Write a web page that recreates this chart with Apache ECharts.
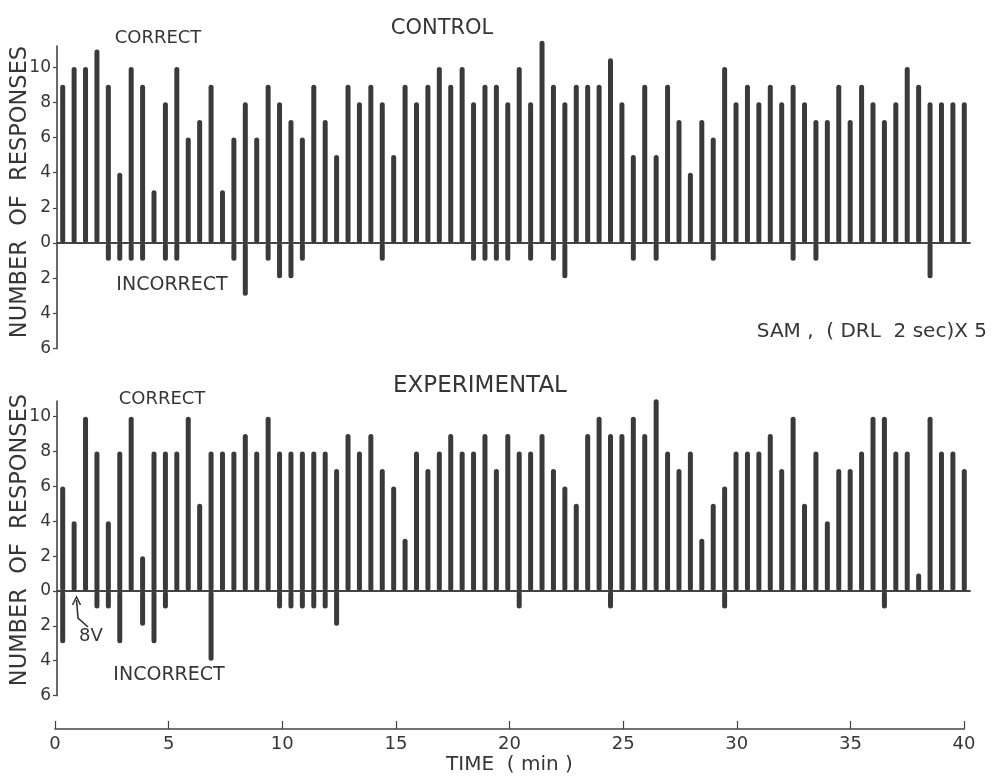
<!DOCTYPE html>
<html>
<head>
<meta charset="utf-8">
<script src="https://cdn.jsdelivr.net/npm/echarts@6/dist/echarts.min.js"></script>
<style>
html,body{margin:0;padding:0;background:#ffffff;}
#chart{width:992px;height:776px;}
</style>
</head>
<body>
<div id="chart"></div>
<script>
// 30-second bins over a 40-minute session (bin end, minutes)
const bins = Array.from({length: 80}, (_, i) => ((i + 1) * 0.5).toFixed(1));

// CONTROL panel: correct responses per bin
const controlCorrect = [
  9, 10, 10, 11, 9, 4, 10, 9, 3, 8,
  10, 6, 7, 9, 3, 6, 8, 6, 9, 8,
  7, 6, 9, 7, 5, 9, 8, 9, 8, 5,
  9, 8, 9, 10, 9, 10, 8, 9, 9, 8,
  10, 8, 11.5, 9, 8, 9, 9, 9, 10.5, 8,
  5, 9, 5, 9, 7, 4, 7, 6, 10, 8,
  9, 8, 9, 8, 9, 8, 7, 7, 9, 7,
  9, 8, 7, 8, 10, 9, 8, 8, 8, 8
];
// CONTROL panel: incorrect responses per bin
const controlIncorrect = [
  0, 0, 0, 0, 1, 1, 1, 1, 0, 1,
  1, 0, 0, 0, 0, 1, 3, 0, 1, 2,
  2, 1, 0, 0, 0, 0, 0, 0, 1, 0,
  0, 0, 0, 0, 0, 0, 1, 1, 1, 1,
  0, 1, 0, 1, 2, 0, 0, 0, 0, 0,
  1, 0, 1, 0, 0, 0, 0, 1, 0, 0,
  0, 0, 0, 0, 1, 0, 1, 0, 0, 0,
  0, 0, 0, 0, 0, 0, 2, 0, 0, 0
];
// EXPERIMENTAL panel: correct responses per bin
const expCorrect = [
  6, 4, 10, 8, 4, 8, 10, 2, 8, 8,
  8, 10, 5, 8, 8, 8, 9, 8, 10, 8,
  8, 8, 8, 8, 7, 9, 8, 9, 7, 6,
  3, 8, 7, 8, 9, 8, 8, 9, 7, 9,
  8, 8, 9, 7, 6, 5, 9, 10, 9, 9,
  10, 9, 11, 8, 7, 8, 3, 5, 6, 8,
  8, 8, 9, 7, 10, 5, 8, 4, 7, 7,
  8, 10, 10, 8, 8, 1, 10, 8, 8, 7
];
// EXPERIMENTAL panel: incorrect responses per bin
const expIncorrect = [
  3, 0, 0, 1, 1, 3, 0, 2, 3, 1,
  0, 0, 0, 4, 0, 0, 0, 0, 0, 1,
  1, 1, 1, 1, 2, 0, 0, 0, 0, 0,
  0, 0, 0, 0, 0, 0, 0, 0, 0, 0,
  1, 0, 0, 0, 0, 0, 0, 0, 1, 0,
  0, 0, 0, 0, 0, 0, 0, 0, 1, 0,
  0, 0, 0, 0, 0, 0, 0, 0, 0, 0,
  0, 0, 1, 0, 0, 0, 0, 0, 0, 0
];
// Tick values
const yTicks = [-6, -4, -2, 0, 2, 4, 6, 8, 10];
const timeTicks = [0, 5, 10, 15, 20, 25, 30, 35, 40];

const INK = '#363636';
const BAR = '#3a3a3a';
const FONT = '"DejaVu Sans", "Liberation Sans", sans-serif';

function panelX(gi) {
  return {
    type: 'category', gridIndex: gi, data: bins, boundaryGap: true,
    axisLine: {show: true, onZero: true, lineStyle: {color: '#444', width: 1.8}},
    axisTick: {show: false}, axisLabel: {show: false}, splitLine: {show: false}
  };
}
function panelY(gi, max) {
  return {
    type: 'value', gridIndex: gi, min: -6, max: max, interval: 2,
    axisLine: {show: true, onZero: false, lineStyle: {color: '#444', width: 1.6}},
    axisTick: {show: true, inside: false, length: 4, customValues: yTicks, lineStyle: {color: '#444', width: 1.2}},
    axisLabel: {
      show: true, customValues: yTicks, margin: 6, hideOverlap: false,
      formatter: v => String(Math.abs(v)),
      color: INK, fontSize: 17, fontFamily: FONT
    },
    splitLine: {show: false}
  };
}
function barSeries(xi, data, stack) {
  return {
    type: 'bar', xAxisIndex: xi, yAxisIndex: xi, stack: stack,
    data: data, barWidth: 5, clip: false, silent: true,
    itemStyle: {color: BAR, borderRadius: 2.5}
  };
}
const neg = arr => arr.map(v => (v ? -v : '-'));

function txt(x, y, s, size, align) {
  return {
    type: 'text', x: x, y: y, silent: true,
    style: {text: s, fill: INK, font: size + 'px ' + FONT, align: align || 'center', verticalAlign: 'middle'}
  };
}

const option = {
  animation: false,
  backgroundColor: '#ffffff',
  grid: [
    {left: 57, width: 913, top: 46, height: 302.6},
    {left: 57, width: 913, top: 401, height: 294.6},
    {left: 55, width: 909, top: 700, height: 32}
  ],
  xAxis: [
    panelX(0),
    panelX(1),
    {
      type: 'value', gridIndex: 2, min: 0, max: 40, interval: 5, position: 'bottom',
      axisLine: {show: true, onZero: false, lineStyle: {color: '#444', width: 1.6}},
      axisTick: {show: true, inside: true, length: 8, lineStyle: {color: '#444', width: 1.2}},
      axisLabel: {show: true, customValues: timeTicks, margin: 6, color: INK, fontSize: 18, fontFamily: FONT},
      splitLine: {show: false},
      name: 'TIME  ( min )', nameLocation: 'middle', nameGap: 26,
      nameTextStyle: {color: INK, fontSize: 20, fontFamily: FONT}
    }
  ],
  yAxis: [
    panelY(0, 11.2),
    panelY(1, 10.9),
    {type: 'value', gridIndex: 2, min: 0, max: 1, show: false}
  ],
  series: [
    barSeries(0, controlCorrect, 'ctl'),
    barSeries(0, neg(controlIncorrect), 'ctl'),
    barSeries(1, expCorrect, 'exp'),
    barSeries(1, neg(expIncorrect), 'exp')
  ],
  graphic: [
    txt(442, 29, 'CONTROL', 21),
    txt(158, 38, 'CORRECT', 18),
    txt(172, 285, 'INCORRECT', 19),
    txt(987, 332, 'SAM ,  ( DRL  2 sec)X 5', 20, 'right'),
    txt(480, 386, 'EXPERIMENTAL', 23),
    txt(162, 399, 'CORRECT', 18),
    txt(169, 675, 'INCORRECT', 19),
    txt(91, 636, '8V', 18),
    {
      type: 'text', x: 20, y: 192, rotation: Math.PI / 2, silent: true,
      style: {text: 'NUMBER  OF  RESPONSES', fill: INK, font: '22.5px ' + FONT, align: 'center', verticalAlign: 'middle'}
    },
    {
      type: 'text', x: 20, y: 540, rotation: Math.PI / 2, silent: true,
      style: {text: 'NUMBER  OF  RESPONSES', fill: INK, font: '22.5px ' + FONT, align: 'center', verticalAlign: 'middle'}
    },
    {
      type: 'polyline', silent: true,
      shape: {points: [[88, 627], [78, 618], [76.5, 600]]},
      style: {stroke: INK, lineWidth: 1.6, fill: null}
    },
    {
      type: 'polyline', silent: true,
      shape: {points: [[72.5, 605], [76.5, 597], [80.5, 605]]},
      style: {stroke: INK, lineWidth: 1.6, fill: null}
    }
  ]
};

const chart = echarts.init(document.getElementById('chart'), null, {renderer: 'canvas'});
chart.setOption(option);
</script>
</body>
</html>
